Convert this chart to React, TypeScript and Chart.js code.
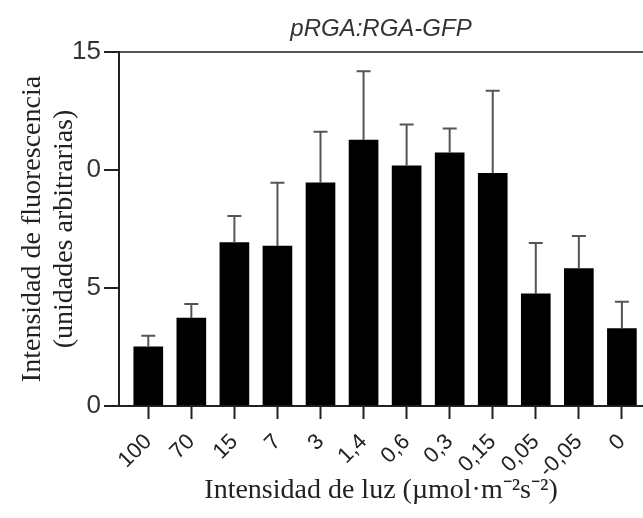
import React, { useEffect, useRef } from 'react';
import { Chart, registerables } from 'chart.js';

Chart.register(...registerables);

const categories = ['100', '70', '15', '7', '3', '1,4', '0,6', '0,3', '0,15', '0,05', '-0,05', '0'];
const means = [2.51, 3.73, 6.92, 6.78, 9.46, 11.27, 10.18, 10.73, 9.86, 4.75, 5.82, 3.28];
const errorsUp = [0.47, 0.59, 1.13, 2.68, 2.16, 2.91, 1.75, 1.03, 3.5, 2.16, 1.38, 1.14];
const yTickValues = [0, 5, 10, 15];
const yTickLabels = ['0', '5', '0', '15'];
const chartTitle = 'pRGA:RGA-GFP';
const yTitle = ['Intensidad de fluorescencia', '(unidades arbitrarias)'];
const xTitle = 'Intensidad de luz (µmol·m⁻²s⁻²)';

const SANS = '"Liberation Sans", Arial, sans-serif';
const SERIF = '"Liberation Serif", "Times New Roman", serif';

const errorBarPlugin = {
  id: 'errorBars',
  afterDatasetsDraw(chart: any) {
    const meta = chart.getDatasetMeta(0);
    const y = chart.scales.y;
    const ctx = chart.ctx;
    ctx.save();
    ctx.strokeStyle = '#555';
    ctx.lineWidth = 2;
    meta.data.forEach((bar: any, i: number) => {
      const top = y.getPixelForValue(means[i] + errorsUp[i]);
      const x = bar.x;
      ctx.beginPath();
      ctx.moveTo(x, bar.y);
      ctx.lineTo(x, top);
      ctx.moveTo(x - 7, top);
      ctx.lineTo(x + 7, top);
      ctx.stroke();
    });
    ctx.restore();
  },
};

const titlePlugin = {
  id: 'topTitle',
  afterDraw(chart: any) {
    const { ctx, chartArea } = chart;
    ctx.save();
    ctx.font = `italic 24px ${SANS}`;
    ctx.fillStyle = '#333';
    ctx.textAlign = 'center';
    ctx.textBaseline = 'middle';
    ctx.fillText(chartTitle, (chartArea.left + chartArea.right) / 2, chartArea.top - 23);
    ctx.restore();
  },
};

export default function App() {
  const ref = useRef<HTMLCanvasElement>(null);
  useEffect(() => {
    if (!ref.current) return;
    const chart = new Chart(ref.current, {
      type: 'bar',
      data: {
        datasets: [
          {
            data: means.map((v, i) => ({ x: i, y: v })),
            backgroundColor: '#000',
            borderColor: '#000',
            borderWidth: 0,
            barThickness: 29,
          },
        ],
      },
      options: {
        responsive: false,
        animation: false,
        layout: { padding: { top: 52, left: 0, right: 0, bottom: 0 } },
        plugins: { legend: { display: false }, tooltip: { enabled: false }, title: { display: false } },
        scales: {
          x: {
            type: 'linear',
            min: -0.68,
            max: 11.49,
            offset: false,
            afterBuildTicks: (s: any) => {
              s.ticks = categories.map((_, i) => ({ value: i }));
            },
            afterFit: (s: any) => {
              s.height = 112;
              s.paddingLeft = 0;
              s.paddingRight = 0;
            },
            ticks: {
              autoSkip: false,
              minRotation: 45,
              maxRotation: 45,
              callback: (v: any) => categories[v],
              font: { family: SANS, size: 22 },
              color: '#222',
              padding: 10,
            },
            grid: {
              offset: false,
              drawOnChartArea: false,
              drawTicks: true,
              tickLength: 13,
              tickColor: '#222',
              tickWidth: 2,
            },
            border: { color: '#222', width: 2 },
            title: {
              display: true,
              text: xTitle,
              font: { family: SERIF, size: 28 },
              color: '#222',
              padding: { top: 0, bottom: 11 },
            },
          },
          y: {
            min: 0,
            max: 15,
            afterBuildTicks: (s: any) => {
              s.ticks = yTickValues.map((v) => ({ value: v }));
            },
            afterFit: (s: any) => {
              s.width = 119;
            },
            ticks: {
              callback: (_v: any, i: number) => yTickLabels[i],
              font: { family: SANS, size: 26 },
              color: '#333',
              padding: 3,
            },
            grid: {
              color: (c: any) => (c.tick && c.tick.value === 15 ? '#555' : 'rgba(0,0,0,0)'),
              lineWidth: 2,
              drawTicks: true,
              tickLength: 15,
              tickColor: '#222',
              tickWidth: 2,
            },
            border: { color: '#222', width: 2 },
            title: {
              display: true,
              text: yTitle,
              font: { family: SERIF, size: 28, lineHeight: 32 / 28 },
              color: '#222',
              padding: { top: 17, bottom: 0 },
            },
          },
        },
      } as any,
      plugins: [errorBarPlugin, titlePlugin],
    });
    return () => chart.destroy();
  }, []);
  return (
    <div style={{ position: 'absolute', left: 0, top: 0, width: 643, height: 518, background: '#fff' }}>
      <canvas ref={ref} width={643} height={518} style={{ display: 'block' }} />
    </div>
  );
}
